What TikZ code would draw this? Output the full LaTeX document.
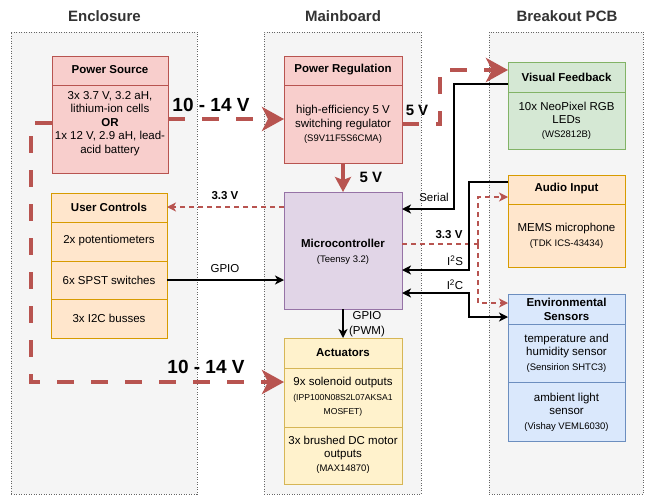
\documentclass[tikz,border=0pt]{standalone}
\usepackage{fontspec}
\setmainfont{Liberation Sans}
\usetikzlibrary{arrows.meta}
\definecolor{contfill}{HTML}{F5F5F5}
\definecolor{contdraw}{HTML}{666666}
\definecolor{titlec}{HTML}{333333}
\definecolor{redf}{HTML}{F8CECC}
\definecolor{redd}{HTML}{B85450}
\definecolor{greenf}{HTML}{D5E8D4}
\definecolor{greend}{HTML}{82B366}
\definecolor{orangef}{HTML}{FFE6CC}
\definecolor{oranged}{HTML}{D79B00}
\definecolor{purplef}{HTML}{E1D5E7}
\definecolor{purpled}{HTML}{9673A6}
\definecolor{bluef}{HTML}{DAE8FC}
\definecolor{blued}{HTML}{6C8EBF}
\definecolor{yellowf}{HTML}{FFF2CC}
\definecolor{yellowd}{HTML}{D6B656}
\tikzset{
  cont/.style={draw=contdraw, fill=contfill, line width=0.6pt, dash pattern=on 1pt off 1.5pt, inner sep=0pt, outer sep=0pt},
  boxbase/.style={line width=0.8pt, inner sep=0pt, outer sep=0pt},
  redbox/.style={boxbase, draw=redd, fill=redf},
  greenbox/.style={boxbase, draw=greend, fill=greenf},
  orangebox/.style={boxbase, draw=oranged, fill=orangef},
  purplebox/.style={boxbase, draw=purpled, fill=purplef},
  bluebox/.style={boxbase, draw=blued, fill=bluef},
  yellowbox/.style={boxbase, draw=yellowd, fill=yellowf},
  divider/.style={line width=0.8pt},
  ctitle/.style={font=\bfseries\fontsize{15}{18}\selectfont, text=titlec, inner sep=0pt},
  hdr/.style={font=\bfseries\fontsize{11.5}{14}\selectfont, align=center, inner sep=0pt},
  body/.style={font=\fontsize{11.5}{13.5}\selectfont, align=center, inner sep=0pt},
  small/.style={font=\fontsize{9.5}{14}\selectfont, align=center, inner sep=0pt},
  bigv/.style={font=\bfseries\fontsize{19}{22}\selectfont, inner sep=0pt},
  midv/.style={font=\bfseries\fontsize{15}{18}\selectfont, inner sep=0pt},
  smallv/.style={font=\bfseries\fontsize{11.5}{14}\selectfont, inner sep=0pt},
  elabel/.style={font=\fontsize{11.5}{15}\selectfont, align=center, inner sep=0pt},
  thickred/.style={draw=redd, line width=4pt, dash pattern=on 17pt off 17pt},
  thickredsolid/.style={draw=redd, line width=4pt},
  thinred/.style={draw=redd, line width=1.4pt, dash pattern=on 5pt off 4pt},
  sig/.style={draw=black, line width=1.5pt},
  bigtip/.style={-{Stealth[length=22pt,width=24pt,inset=6pt]}},
  midtip/.style={-{Stealth[length=15pt,width=16pt,inset=3pt]}},
  smalltip/.style={-{Stealth[length=9pt,width=9pt,inset=2.5pt]}},
  bothtip/.style={{Stealth[length=9pt,width=9pt,inset=2.5pt]}-{Stealth[length=9pt,width=9pt,inset=2.5pt]}},
}
\begin{document}
\begin{tikzpicture}[x=1pt,y=-1pt]
\useasboundingbox[fill=white] (0,0) rectangle (652,495);

% containers
\node[cont, minimum width=186, minimum height=462] (encl) at (104,263) {};
\node[cont, minimum width=157, minimum height=462] (mainb) at (342.5,263) {};
\node[cont, minimum width=154, minimum height=462] (brk) at (566,263) {};
\node[ctitle] (t1) at (104.5,16) {Enclosure};
\node[ctitle] (t2) at (343,16) {Mainboard};
\node[ctitle] (t3) at (567,16) {Breakout PCB};

% Power Source
\node[redbox, minimum width=116, minimum height=117] (ps) at (110,114.5) {};
\draw[divider, redd] (ps.west |- 0,85) -- (ps.east |- 0,85);
\node[hdr] (psh) at (110,70) {Power Source};
\node[body] (psb) at (110,123.5) {3x 3.7 V, 3.2 aH,\\lithium-ion cells\\\textbf{OR}\\1x 12 V, 2.9 aH, lead-\\acid battery};

% Power Regulation
\node[redbox, minimum width=118, minimum height=107] (preg) at (343,109.5) {};
\draw[divider, redd] (preg.west |- 0,85) -- (preg.east |- 0,85);
\node[hdr] (prh) at (343,70) {Power Regulation};
\node[body] (prb) at (343,117.5) {high-efficiency 5 V\\switching regulator};
\node[small] (prs) at (343,139) {(S9V11F5S6CMA)};

% Visual Feedback
\node[greenbox, minimum width=117, minimum height=87] (vf) at (566.5,105.5) {};
\draw[divider, greend] (vf.west |- 0,92) -- (vf.east |- 0,92);
\node[hdr] (vfh) at (566.5,77) {Visual Feedback};
\node[body] (vfb) at (566.5,113) {10x NeoPixel RGB\\LEDs};
\node[small] (vfs) at (566.5,135) {(WS2812B)};

% User Controls
\node[orangebox, minimum width=116, minimum height=145] (uc) at (109,265.5) {};
\draw[divider, oranged] (uc.west |- 0,222) -- (uc.east |- 0,222);
\draw[divider, oranged] (uc.west |- 0,261) -- (uc.east |- 0,261);
\draw[divider, oranged] (uc.west |- 0,299) -- (uc.east |- 0,299);
\node[hdr] (uch) at (109,207) {User Controls};
\node[body] (uc1) at (109,241) {2x potentiometers};
\node[body] (uc2) at (109,280) {6x SPST switches};
\node[body] (uc3) at (109,318) {3x I2C busses};

% Microcontroller
\node[purplebox, minimum width=118, minimum height=117] (mc) at (343,250.5) {};
\node[hdr] (mch) at (343,243) {Microcontroller};
\node[small] (mcs) at (343,260) {(Teensy 3.2)};

% Audio Input
\node[orangebox, minimum width=117, minimum height=92] (ai) at (566.5,221) {};
\draw[divider, oranged] (ai.west |- 0,204) -- (ai.east |- 0,204);
\node[hdr] (aih) at (566.5,189) {Audio Input};
\node[body] (aib) at (566.5,229) {MEMS microphone};
\node[small] (ais) at (566.5,244) {(TDK ICS-43434)};

% Environmental Sensors
\node[bluebox, minimum width=117, minimum height=147] (es) at (566.5,367.5) {};
\draw[divider, blued] (es.west |- 0,324) -- (es.east |- 0,324);
\draw[divider, blued] (es.west |- 0,382) -- (es.east |- 0,382);
\node[hdr] (esh) at (566.5,309) {Environmental\\Sensors};
\node[body] (esb1) at (566.5,346) {temperature and\\humidity sensor};
\node[small] (ess1) at (566.5,368) {(Sensirion SHTC3)};
\node[body] (esb2) at (566.5,404) {ambient light\\sensor};
\node[small] (ess2) at (566.5,427) {(Vishay VEML6030)};

% Actuators
\node[yellowbox, minimum width=118, minimum height=146] (act) at (343,411) {};
\draw[divider, yellowd] (act.west |- 0,368) -- (act.east |- 0,368);
\draw[divider, yellowd] (act.west |- 0,427) -- (act.east |- 0,427);
\node[hdr] (ach) at (343,353) {Actuators};
\node[body] (acb1) at (343,383) {9x solenoid outputs};
\node[small, font=\fontsize{8.6}{14}\selectfont] (acs1) at (343,405) {(IPP100N08S2L07AKSA1\\MOSFET)};
\node[body] (acb2) at (343,448) {3x brushed DC motor\\outputs};
\node[small] (acs2) at (343,469) {(MAX14870)};

% power connectors
\draw[thickred, bigtip] (ps.east |- 0,119) -- (preg.west |- 0,119);
\node[bigv] (l1) at (211,105) {10 - 14 V};
\draw[thickred, bigtip] (ps.west |- 0,123) -| (31,382) -- (act.west |- 0,382);
\node[bigv] (l2) at (206,367) {10 - 14 V};
\draw[thickred, bigtip] (preg.east |- 0,124) -| (440,70) -- (vf.west |- 0,70);
\node[midv] (l3) at (417,110) {5 V};
\draw[thickredsolid, midtip] (preg.south) -- (mc.north);
\node[midv] (l4) at (371,177) {5 V};

% 3.3 V
\draw[thinred, smalltip] (mc.west |- 0,207) -- (uc.east |- 0,207);
\node[smallv] (l5) at (225,196) {3.3 V};
\coordinate (split) at (478,244);
\draw[thinred] (mc.east |- 0,244) -- (split);
\draw[thinred, smalltip] (split) |- (ai.west |- 0,197);
\draw[thinred, smalltip] (split) |- (es.west |- 0,303);
\node[smallv] (l8) at (449,235) {3.3 V};

% signals
\draw[sig, smalltip] (uc.east |- 0,280) -- (mc.west |- 0,280);
\node[elabel] (l6) at (225,269) {GPIO};
\draw[sig, smalltip] (vf.west |- 0,84) -| (454,209) -- (mc.east |- 0,209);
\node[elabel] (l7) at (434,197) {Serial};
\draw[sig, smalltip] (ai.west |- 0,182) -| (469,270) -- (mc.east |- 0,270);
\node[elabel] (l9) at (455,261) {I\textsuperscript{2}S};
\draw[sig, bothtip] (mc.east |- 0,293) -| (469,317) -- (es.west |- 0,317);
\node[elabel] (l10) at (455,285) {I\textsuperscript{2}C};
\draw[sig, smalltip] (mc.south) -- (act.north);
\node[elabel] (l11) at (367,324) {GPIO\\(PWM)};
\end{tikzpicture}
\end{document}
